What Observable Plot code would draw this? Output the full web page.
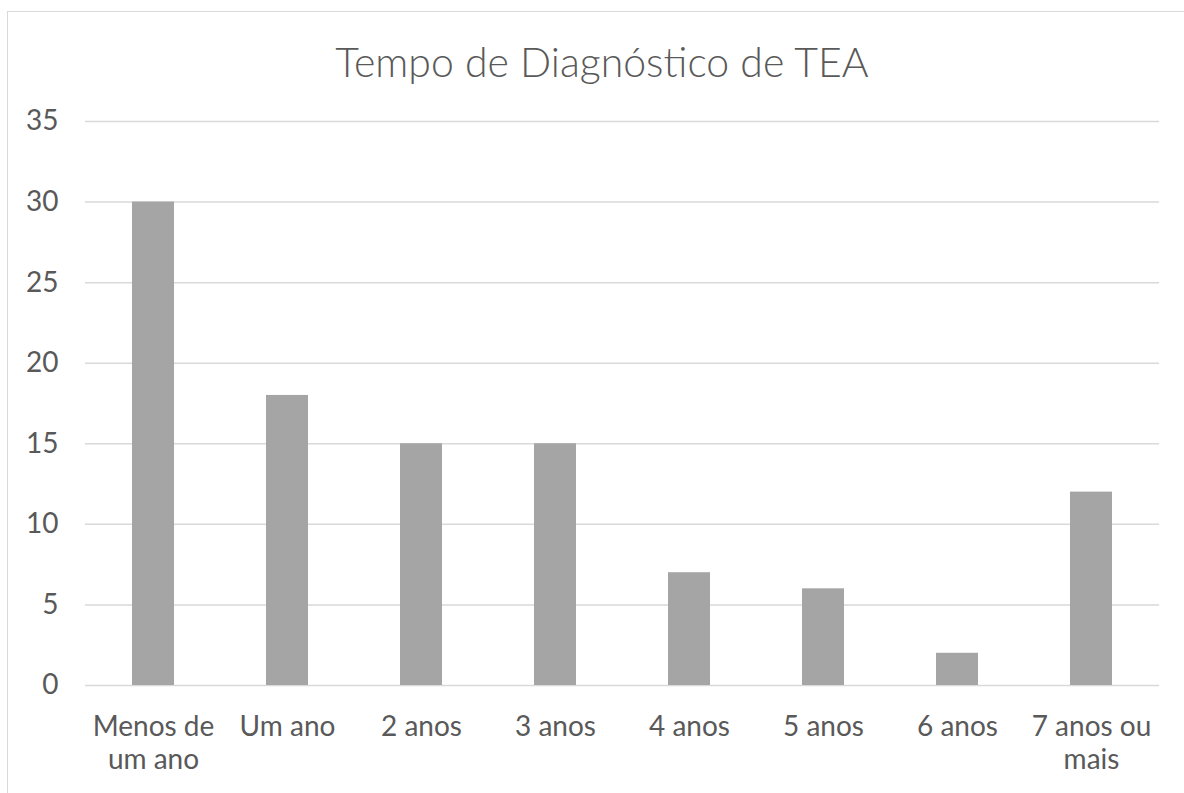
<!DOCTYPE html>
<html>
<head>
<meta charset="utf-8">
<script src="https://cdn.jsdelivr.net/npm/d3@7"></script>
<script src="https://cdn.jsdelivr.net/npm/@observablehq/plot@0.6"></script>
<style>
  html, body { margin: 0; padding: 0; background: #fff; overflow: hidden; }
  #wrap { position: relative; width: 1184px; height: 793px; overflow: hidden; }
  #frame { position: absolute; left: 7px; top: 11px; width: 1220px; height: 820px;
           border: 1.5px solid #d9d9d9; box-sizing: border-box; }
  #title { position: absolute; left: 0; top: 37px; width: 1204px; text-align: center;
           font-family: Lato, "Open Sans", sans-serif; font-size: 41px; font-weight: 300; color: #595959; }
  #chart { position: absolute; left: 0; top: 0; }
</style>
</head>
<body>
<div id="wrap">
  <div id="frame"></div>
  <div id="title">Tempo de Diagnóstico de TEA</div>
  <div id="chart"></div>
</div>
<script>
const categories = ["Menos de\num ano", "Um ano", "2 anos", "3 anos", "4 anos", "5 anos", "6 anos", "7 anos ou\nmais"];
const values = [30, 18, 15, 15, 7, 6, 2, 12];
const yTicks = [0, 5, 10, 15, 20, 25, 30, 35];

const data = categories.map((c, i) => ({category: c, value: values[i]}));

const chart = Plot.plot({
  width: 1184,
  height: 793,
  marginLeft: 85,
  marginRight: 25,
  marginTop: 121,
  marginBottom: 108,
  style: {fontFamily: "Lato, 'Open Sans', sans-serif", fontSize: "28px", color: "#595959", background: "transparent"},
  x: {domain: categories, paddingInner: 0.69, paddingOuter: 0.345, label: null},
  y: {domain: [0, 35], ticks: yTicks, label: null},
  marks: [
    Plot.gridY(yTicks, {stroke: "#d9d9d9", strokeOpacity: 1, strokeWidth: 1.5}),
    Plot.barY(data, {x: "category", y: "value", fill: "#a5a5a5"}),
    Plot.axisY(yTicks, {tickSize: 0, tickPadding: 27, fontSize: 28, fill: "#595959", label: null}),
    Plot.axisX({tickSize: 0, tickPadding: 28, fontSize: 28, fill: "#595959", lineHeight: 1.15, label: null})
  ]
});
document.getElementById("chart").appendChild(chart);
</script>
</body>
</html>
